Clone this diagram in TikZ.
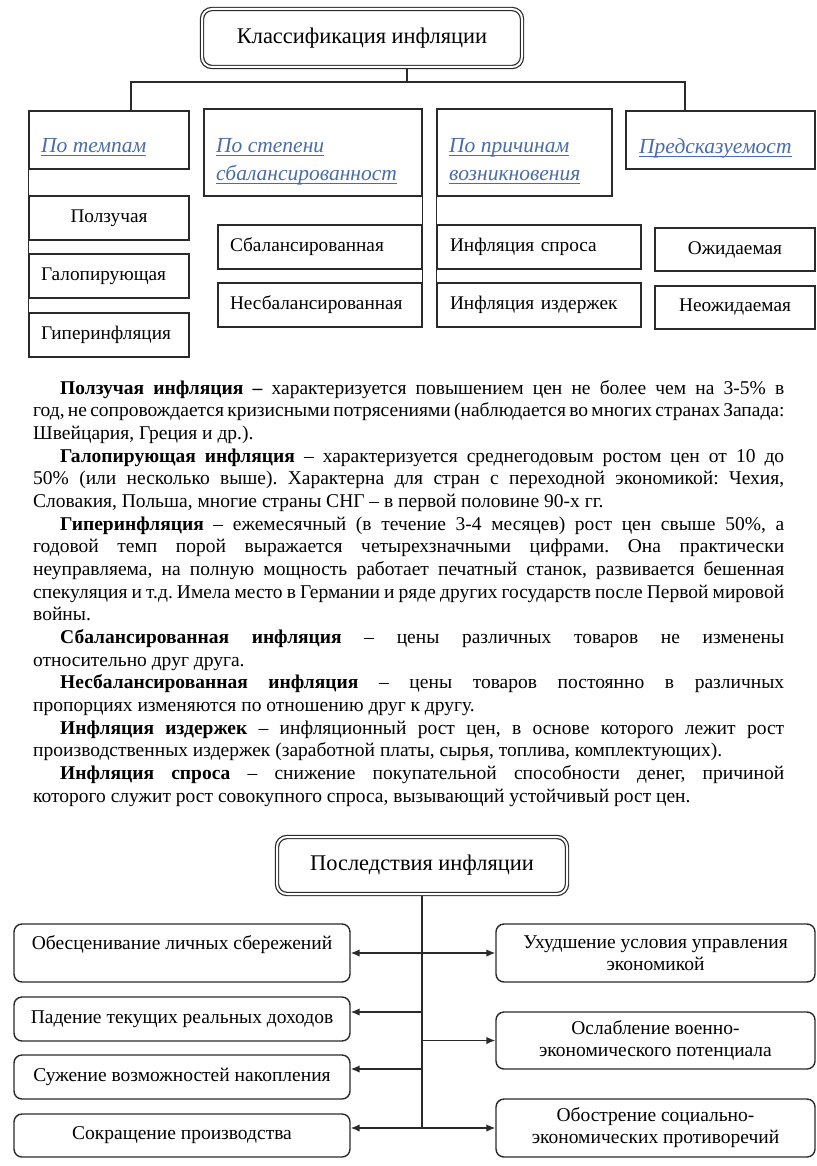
\documentclass[tikz,border=0pt]{standalone}
\usepackage{fontspec}
\setmainfont{Liberation Serif}
\usetikzlibrary{arrows.meta}
\definecolor{ln}{HTML}{2A2A2A}
\definecolor{hb}{HTML}{4A6DA7}
\frenchspacing
\newcommand\hul[1]{\setbox0\hbox{#1}\rlap{\rule[-2.6pt]{\wd0}{0.9pt}}\box0}
\newcommand\JI[1]{\hbox to 751pt{\hskip27pt #1}}
\newcommand\JL[1]{\hbox to 751pt{#1}}
\newcommand\JE[1]{\hbox{#1}}
\tikzset{
  conn/.style={draw=ln, line width=1.45pt},
  arr/.style={conn, -{Latex[length=9pt,width=7.5pt]}},
  titlebox/.style={draw=ln, double=white, double distance=2pt, line width=1.2pt, rounded corners=10pt, inner sep=0pt, outer sep=2.2pt, font=\fontsize{22.4}{26}\selectfont},
  hdr/.style={draw=ln, line width=1.45pt, inner sep=0pt},
  htext/.style={anchor=base west, inner sep=0pt, text=hb, font=\itshape\fontsize{21.5}{28}\selectfont},
  cbox/.style={draw=ln, line width=1.45pt, inner xsep=12pt, inner ysep=0pt, font=\fontsize{19.3}{22}\selectfont},
  rbox/.style={draw=ln, line width=1.4pt, rounded corners=8pt, inner sep=0pt, align=center, font=\fontsize{19.5}{22}\selectfont},
  btext/.style={inner sep=0pt, font=\fontsize{19.5}{22}\selectfont},
}
\begin{document}
\begin{tikzpicture}[x=1pt,y=-1pt]
\fill[white] (0,0) rectangle (816,1166);
\useasboundingbox (0,0) rectangle (816,1166);

% ---------- Classification ----------
\node[titlebox, minimum width=320pt, minimum height=58pt] (T) at (362,38) {Классификация инфляции};

\node[hdr, minimum width=160pt, minimum height=58pt] (h1) at (109,140) {};
\node[hdr, minimum width=218pt, minimum height=87pt] (h2) at (313,152.5) {};
\node[hdr, minimum width=175pt, minimum height=87pt] (h3) at (524.5,152.5) {};
\node[hdr, minimum width=189pt, minimum height=58pt] (h4) at (720.5,140) {};

\node[htext] (h1t) at (41,153) {\hul{По темпам}};
\node[htext] (h2t) at (216,153) {\vtop{\hbox{\hul{По степени}}\hbox{\hul{сбалансированност}}}};
\node[htext] (h3t) at (449,153) {\vtop{\hbox{\hul{По причинам}}\hbox{\hul{возникновения}}}};
\node[htext] (h4t) at (639,154) {\hul{Предсказуемост}};

\node[cbox, minimum width=160pt, minimum height=44pt, text width=136pt, align=center] (c11) at (109,218) {Ползучая};
\node[cbox, minimum width=160pt, minimum height=44pt, text width=136pt, align=left] (c12) at (109,276) {Галопирующая};
\node[cbox, minimum width=160pt, minimum height=44pt, text width=136pt, align=left] (c13) at (109,335) {Гиперинфляция};

\node[cbox, minimum width=204pt, minimum height=44pt, text width=180pt, align=left] (c21) at (320,247) {Сбалансированная};
\node[cbox, minimum width=204pt, minimum height=44pt, text width=180pt, align=left] (c22) at (320,305) {Несбалансированная};

\node[cbox, minimum width=204pt, minimum height=44pt, text width=180pt, align=left] (c31) at (539,247) {\hskip1pt Инфляция спроса};
\node[cbox, minimum width=204pt, minimum height=44pt, text width=180pt, align=left] (c32) at (539,305) {\hskip1pt Инфляция издержек};

\node[cbox, minimum width=160pt, minimum height=43pt, text width=136pt, align=center] (c41) at (735,249.5) {Ожидаемая};
\node[cbox, minimum width=160pt, minimum height=43pt, text width=136pt, align=center] (c42) at (735,307.5) {Неожидаемая};

\coordinate (j) at (407,82);
\coordinate (j1) at (131,82);
\coordinate (j4) at (685,82);
\draw[conn] (T.south -| j) -- (j);
\draw[conn] (h1.north -| j1) -- (j1) -- (j4) -- (h4.north -| j4);
\draw[conn] (h1.south west) -- (c13.north west);
\draw[conn] (h2.south east) -- (c22.north east);
\draw[conn] (h3.south west) -- (c32.north west);

% ---------- Text ----------
\node[anchor=base west, inner sep=0pt, font=\fontsize{19.5}{22.67}\selectfont] (txt) at (33,394) {\vtop{\baselineskip=22.67pt\lineskiplimit=-100pt
\JI{\textbf{Ползучая инфляция –} характеризуется повышением цен не более чем на 3-5\% в}
\JL{год, не сопровождается кризисными потрясениями (наблюдается во многих странах Запада:}
\JE{Швейцария, Греция и др.).}
\JI{\textbf{Галопирующая инфляция} – характеризуется среднегодовым ростом цен от 10 до}
\JL{50\% (или несколько выше). Характерна для стран с переходной экономикой: Чехия,}
\JE{Словакия, Польша, многие страны СНГ – в первой половине 90-х гг.}
\JI{\textbf{Гиперинфляция} – ежемесячный (в течение 3-4 месяцев) рост цен свыше 50\%, а}
\JL{годовой темп порой выражается четырехзначными цифрами. Она практически}
\JL{неуправляема, на полную мощность работает печатный станок, развивается бешенная}
\JL{спекуляция и т.д. Имела место в Германии и ряде других государств после Первой мировой}
\JE{войны.}
\JI{\textbf{Сбалансированная инфляция} – цены различных товаров не изменены}
\JE{относительно друг друга.}
\JI{\textbf{Несбалансированная инфляция} – цены товаров постоянно в различных}
\JE{пропорциях изменяются по отношению друг к другу.}
\JI{\textbf{Инфляция издержек} – инфляционный рост цен, в основе которого лежит рост}
\JE{производственных издержек (заработной платы, сырья, топлива, комплектующих).}
\JI{\textbf{Инфляция спроса} – снижение покупательной способности денег, причиной}
\JE{которого служит рост совокупного спроса, вызывающий устойчивый рост цен.}
}};

% ---------- Consequences ----------
\node[titlebox, minimum width=290pt, minimum height=57pt] (B) at (422,865.5) {Последствия инфляции};

\node[rbox, minimum width=336pt, minimum height=58pt] (L1) at (182,953) {};
\node[btext] (L1t) at ([yshift=8pt]L1.center) {Обесценивание личных сбережений};
\node[rbox, minimum width=336pt, minimum height=44pt] (L2) at (182,1019) {Падение текущих реальных доходов};
\node[rbox, minimum width=336pt, minimum height=44pt] (L3) at (182,1077) {Сужение возможностей накопления};
\node[rbox, minimum width=336pt, minimum height=43pt] (L4) at (182,1135.5) {Сокращение производства};

\node[rbox, minimum width=319pt, minimum height=58pt] (R1) at (655.5,953) {Ухудшение условия управления\\экономикой};
\node[rbox, minimum width=319pt, minimum height=57pt] (R2) at (655.5,1040.5) {Ослабление военно-\\экономического потенциала};
\node[rbox, minimum width=319pt, minimum height=58pt] (R3) at (655.5,1128) {Обострение социально-\\экономических противоречий};

\coordinate (a2) at ([yshift=7pt]L2.east);
\coordinate (a3) at ([yshift=8pt]L3.east);
\coordinate (a4) at ([yshift=7.5pt]L4.east);
\draw[conn] (B.south) -- (B.south |- R3.west);
\draw[arr] (B.south |- L1.east) -- (L1.east);
\draw[arr] (B.south |- a2) -- (a2);
\draw[arr] (B.south |- a3) -- (a3);
\draw[arr] (B.south |- a4) -- (a4);
\draw[arr] (B.south |- R1.west) -- (R1.west);
\draw[arr] (B.south |- R2.west) -- (R2.west);
\draw[arr] (B.south |- R3.west) -- (R3.west);
\end{tikzpicture}
\end{document}
